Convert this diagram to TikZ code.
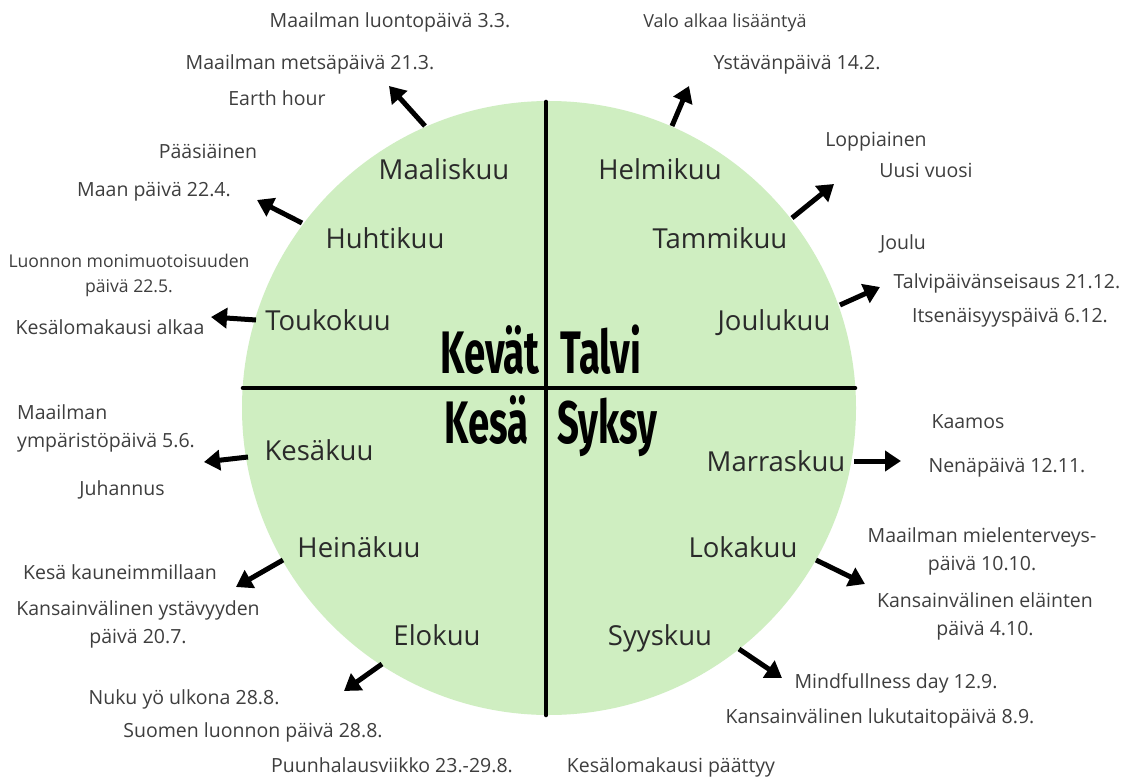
\documentclass[tikz,border=0pt]{standalone}
\usepackage{fontspec}
\setmainfont{Open Sans}
\newfontfamily\seasonfont{Fira Sans}
\usetikzlibrary{arrows.meta}
\definecolor{circgreen}{RGB}{207,238,193}
\definecolor{evtxt}{RGB}{62,62,62}
\definecolor{montxt}{RGB}{42,42,42}
\newcommand\twoc[2]{\begin{tabular}[t]{@{}c@{}}#1\\#2\end{tabular}}
\newcommand\twol[2]{\begin{tabular}[t]{@{}l@{}}#1\\#2\end{tabular}}
\newcommand\seas[1]{\scalebox{0.64}[1]{\seasonfont\bfseries\fontsize{60}{60}\selectfont #1}}
\begin{document}
\begin{tikzpicture}[x=1pt,y=-1pt,
  month/.style={font=\fontsize{27.5}{32}\selectfont, text=montxt, inner sep=0pt, anchor=base},
  ev/.style={font=\fontsize{19.5}{28}\selectfont, text=evtxt, inner sep=0pt, anchor=base},
  season/.style={inner sep=0pt, text=black},
  arr/.style={line width=5pt, -{Triangle[length=16pt,width=20pt]}},
  divider/.style={line width=4.6pt, line cap=round}]
\useasboundingbox (0,0) rectangle (1130,778);
\fill[white] (0,0) rectangle (1130,778);
\fill[circgreen] (549,408) circle[radius=307pt];
% dividers
\coordinate (vt) at (546,102); \coordinate (vb) at (546,715);
\coordinate (hl) at (243,388); \coordinate (hr) at (855,388);
\draw[divider] (vt) -- (vb);
\draw[divider] (hl) -- (hr);
% seasons
\node[season, anchor=base east] (kevat) at (540,373) {\seas{Kevät}};
\node[season, anchor=base west] (talvi) at (560,373) {\seas{Talvi}};
\node[season, anchor=base east] (kesa) at (529,443) {\seas{Kesä}};
\node[season, anchor=base west] (syksy) at (557,443) {\seas{Syksy}};
% months
\node[month] (m3) at (444,180) {Maaliskuu};
\node[month] (m2) at (660,180) {Helmikuu};
\node[month] (m4) at (385,249) {Huhtikuu};
\node[month] (m1) at (720,249) {Tammikuu};
\node[month] (m5) at (328,330) {Toukokuu};
\node[month] (m12) at (774,330) {Joulukuu};
\node[month] (m6) at (319,460) {Kesäkuu};
\node[month] (m11) at (776,471) {Marraskuu};
\node[month] (m7) at (359,557) {Heinäkuu};
\node[month] (m10) at (743,557) {Lokakuu};
\node[month] (m8) at (437,645) {Elokuu};
\node[month] (m9) at (660,645) {Syyskuu};
% events
\node[ev] (e1) at (390,28) {Maailman luontopäivä 3.3.};
\node[ev] (e2) at (310,70) {Maailman metsäpäivä 21.3.};
\node[ev] (e3) at (277,106) {Earth hour};
\node[ev] (e4) at (208,159) {Pääsiäinen};
\node[ev] (e5) at (154,197) {Maan päivä 22.4.};
\node[ev, font=\fontsize{17.6}{24.5}\selectfont] (e6) at (129,268) {\twoc{Luonnon monimuotoisuuden}{päivä 22.5.}};
\node[ev] (e7) at (110,334) {Kesälomakausi alkaa};
\node[ev, anchor=base west] (e8) at (17,419) {\twol{Maailman}{ympäristöpäivä 5.6.}};
\node[ev] (e9) at (122,495) {Juhannus};
\node[ev] (e10) at (120,579) {Kesä kauneimmillaan};
\node[ev] (e11) at (138,615) {\twoc{Kansainvälinen ystävyyden}{päivä 20.7.}};
\node[ev] (e12) at (184,704) {Nuku yö ulkona 28.8.};
\node[ev] (e13) at (253,737) {Suomen luonnon päivä 28.8.};
\node[ev] (e14) at (392,772) {Puunhalausviikko 23.-29.8.};
\node[ev] (e15) at (671,772) {Kesälomakausi päättyy};
\node[ev] (e16) at (880,723) {Kansainvälinen lukutaitopäivä 8.9.};
\node[ev] (e17) at (896,688) {Mindfullness day 12.9.};
\node[ev] (e18) at (982,542) {\twoc{Maailman mielenterveys-}{päivä 10.10.}};
\node[ev] (e19) at (985,607) {\twoc{Kansainvälinen eläinten}{päivä 4.10.}};
\node[ev] (e20) at (968,428) {Kaamos};
\node[ev] (e21) at (1007,472) {Nenäpäivä 12.11.};
\node[ev] (e22) at (903,250) {Joulu};
\node[ev] (e23) at (1007,288) {Talvipäivänseisaus 21.12.};
\node[ev] (e24) at (1010,322) {Itsenäisyyspäivä 6.12.};
\node[ev] (e25) at (876,147) {Loppiainen};
\node[ev] (e26) at (926,178) {Uusi vuosi};
\node[ev, font=\fontsize{18}{28}\selectfont] (e27) at (725,28) {Valo alkaa lisääntyä};
\node[ev] (e28) at (797,70) {Ystävänpäivä 14.2.};
% arrow ends
\coordinate (a3s) at (425,126); \coordinate (a3e) at (389,86);
\coordinate (a2s) at (672,126); \coordinate (a2e) at (689,86);
\coordinate (a4s) at (302,223); \coordinate (a4e) at (257,200);
\coordinate (a1s) at (792,218); \coordinate (a1e) at (834,184);
\coordinate (a5s) at (256,320); \coordinate (a5e) at (211,317);
\coordinate (a12s) at (840,305); \coordinate (a12e) at (880,287);
\coordinate (a6s) at (248,457); \coordinate (a6e) at (204,462);
\coordinate (a11s) at (854,461); \coordinate (a11e) at (901,461);
\coordinate (a7s) at (283,560); \coordinate (a7e) at (236,587);
\coordinate (a10s) at (816,560); \coordinate (a10e) at (865,584);
\coordinate (a8s) at (382,664); \coordinate (a8e) at (344,691);
\coordinate (a9s) at (739,649); \coordinate (a9e) at (782,678);
\foreach \i in {1,...,12} \draw[arr] (a\i s) -- (a\i e);
\end{tikzpicture}
\end{document}
